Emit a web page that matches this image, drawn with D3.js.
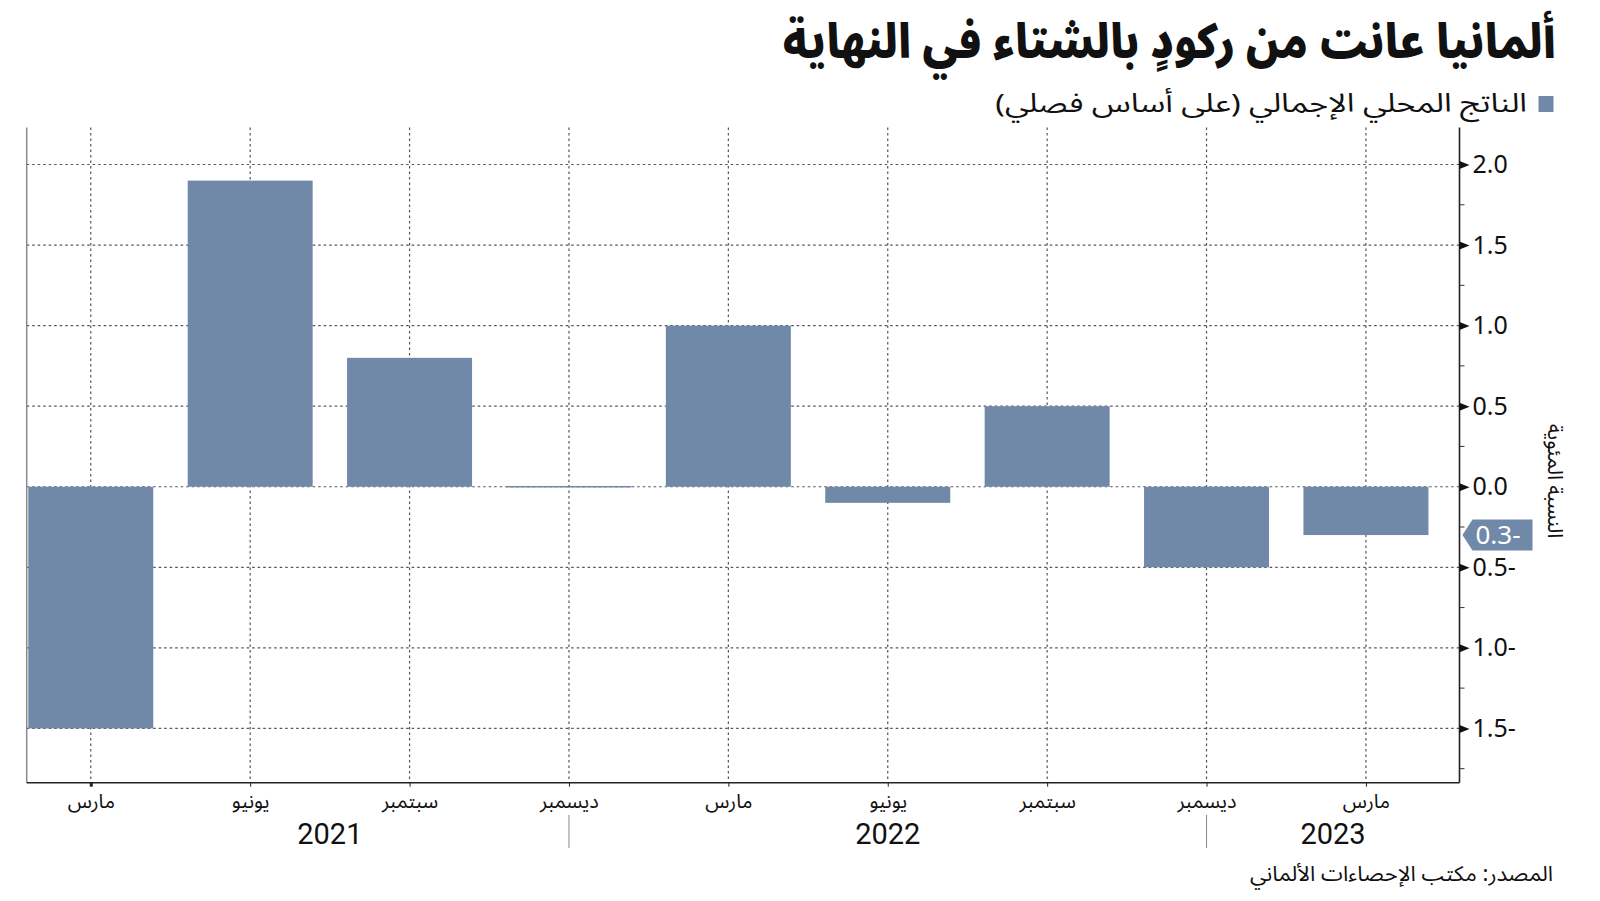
<!DOCTYPE html>
<html><head><meta charset="utf-8">
<script src="https://cdn.jsdelivr.net/npm/d3@7"></script>
<style>
html,body{margin:0;padding:0;background:#fff;}
svg{display:block;}
text{font-family:"Noto Sans Arabic","Noto Sans","DejaVu Sans",sans-serif;fill:#111;}
</style></head>
<body>
<script>
// ---- data ----
const months = ["مارس","يونيو","سبتمبر","ديسمبر","مارس","يونيو","سبتمبر","ديسمبر","مارس"];
const values = [-1.5, 1.9, 0.8, 0.0, 1.0, -0.1, 0.5, -0.5, -0.3];
const years = ["2021","2022","2023"];
const yearBreaks = [3, 7];          // category index where a new year separator sits
const yTicks = [-1.5,-1.0,-0.5,0.0,0.5,1.0,1.5,2.0];
const yMinorTicks = [-1.75,-1.25,-0.75,-0.25,0.25,0.75,1.25,1.75];
const title = "ألمانيا عانت من ركودٍ بالشتاء في النهاية";
const legendLabel = "الناتج المحلي الإجمالي (على أساس فصلي)";
const yTitle = "النسبة المئوية";
const source = "المصدر: مكتب الإحصاءات الألماني";
const highlight = -0.3;

const W = 1600, H = 901;
const pL = 26.7, pR = 1459.5, pT = 127.6, pB = 782.7;
const barColor = "#7189a9";

const svg = d3.select("body").append("svg").attr("width", W).attr("height", H);

const x = d3.scaleLinear().domain([-0.402, 8.587]).range([pL, pR]);
const y = d3.scaleLinear().domain([-1.837, 2.229]).range([pB, pT]);
const barW = 125;

function fit(sel, target) {
  const w = sel.node().getComputedTextLength();
  if (w > 0) {
    const s = target / w;
    const t = sel.attr("data-t");
    sel.attr("transform", t + ` scale(${s},1)`);
  }
}

// gridlines
const grid = svg.append("g");
grid.selectAll("line.h").data(yTicks).join("line")
  .attr("x1", pL).attr("x2", pR)
  .attr("y1", d => y(d)).attr("y2", d => y(d))
  .attr("stroke", "#555").attr("stroke-width", 1.2).attr("stroke-dasharray", "2.5,3");
grid.selectAll("line.v").data(months.map((m,i)=>i)).join("line")
  .attr("x1", d => x(d)).attr("x2", d => x(d))
  .attr("y1", pT).attr("y2", pB)
  .attr("stroke", "#555").attr("stroke-width", 1.2).attr("stroke-dasharray", "2.5,3");

// clip
svg.append("clipPath").attr("id","plot").append("rect")
  .attr("x", pL).attr("y", pT).attr("width", pR-pL).attr("height", pB-pT);

// bars
svg.append("g").attr("clip-path","url(#plot)")
  .selectAll("rect").data(values).join("rect")
  .attr("x", (d,i) => x(i) - barW/2)
  .attr("width", barW)
  .attr("y", d => d === 0 ? y(0) - 0.75 : Math.min(y(d), y(0)))
  .attr("height", d => Math.max(1.5, Math.abs(y(d) - y(0))))
  .attr("fill", barColor);

// left border
svg.append("line").attr("x1", pL).attr("x2", pL).attr("y1", pT).attr("y2", pB)
  .attr("stroke", "#8a8a8a").attr("stroke-width", 1.5);

// x axis
const xAxis = svg.append("g").attr("transform", `translate(0,${pB})`)
  .call(d3.axisBottom(x).tickValues(months.map((m,i)=>i)).tickFormat(i => months[i]).tickSize(4).tickSizeOuter(0));
xAxis.select(".domain").attr("stroke", "#222").attr("stroke-width", 1.6).attr("d", `M${pL},0H${pR}`);
xAxis.selectAll(".tick line").attr("stroke", "#222").attr("stroke-width", (d,i) => i === 0 ? 3 : 1);
xAxis.selectAll(".tick text").attr("y", 11).attr("dy", "0.71em")
  .style("font-family", "'Noto Sans Arabic','Noto Sans','DejaVu Sans',sans-serif")
  .style("font-size", "20px").attr("fill", "#111");

// year labels & separators
const bounds = [0, ...yearBreaks, x.domain()[1]];
svg.append("g").selectAll("text").data(years).join("text")
  .attr("x", (d,i) => x((bounds[i] + bounds[i+1]) / 2))
  .attr("y", 844)
  .attr("text-anchor", "middle")
  .style("font-family", "Roboto, 'Noto Sans', sans-serif")
  .style("font-size", "29px")
  .text(d => d);
svg.append("g").selectAll("line").data(yearBreaks).join("line")
  .attr("x1", d => x(d)).attr("x2", d => x(d))
  .attr("y1", 815).attr("y2", 848)
  .attr("stroke", "#888").attr("stroke-width", 1);

// y axis (right)
const yAxis = svg.append("g").attr("transform", `translate(${pR},0)`)
  .call(d3.axisRight(y).tickValues(yTicks).tickSize(0).tickPadding(13).tickSizeOuter(0)
    .tickFormat(d => d < 0 ? Math.abs(d).toFixed(1) + "-" : d.toFixed(1)));
yAxis.select(".domain").attr("d", `M0,${pT}V${pB}`).attr("stroke", "#222").attr("stroke-width", 1.6);
yAxis.selectAll(".tick text")
  .style("font-family", "'Noto Sans', 'Open Sans', sans-serif")
  .style("font-size", "25px").attr("fill", "#111").attr("direction", "ltr");
yAxis.selectAll(".tick").append("path")
  .attr("d", "M0,-4L10,0L0,4Z").attr("fill", "#111");
svg.append("g").attr("transform", `translate(${pR},0)`)
  .selectAll("line").data(yMinorTicks).join("line")
  .attr("x1", 0).attr("x2", 5).attr("y1", d => y(d)).attr("y2", d => y(d))
  .attr("stroke", "#333").attr("stroke-width", 1);

// highlight flag
const fy = y(highlight);
const flag = svg.append("g").attr("transform", `translate(${pR + 3},${fy})`);
flag.append("path").attr("d", "M0,0L10,-15.5H70V15.5H10Z").attr("fill", barColor);
flag.append("text").attr("x", 13).attr("y", 0).attr("dy", "0.36em")
  .attr("direction", "ltr")
  .style("font-family", "'Noto Sans', 'Open Sans', sans-serif")
  .style("font-size", "26px").style("fill", "#fff")
  .text(Math.abs(highlight).toFixed(1) + "-");

// y title
svg.append("text")
  .attr("transform", "translate(1555,481) rotate(90)")
  .attr("text-anchor", "middle")
  .attr("dy", "0.35em")
  .style("font-size", "21px")
  .text(yTitle);

// title
const t = svg.append("text").attr("data-t", "translate(1556,58)")
  .attr("transform", "translate(1556,58)")
  .attr("text-anchor", "start").attr("direction", "rtl")
  .style("font-size", "47px").style("font-weight", "900")
  .text(title);
fit(t, 774);

// legend
svg.append("rect").attr("x", 1538.5).attr("y", 96).attr("width", 15).attr("height", 16).attr("fill", barColor);
const lg = svg.append("text").attr("data-t", "translate(1527,112)")
  .attr("transform", "translate(1527,112)")
  .attr("text-anchor", "start").attr("direction", "rtl")
  .style("font-size", "26px")
  .text(legendLabel);
fit(lg, 532);

// source
const src = svg.append("text").attr("data-t", "translate(1553,881)")
  .attr("transform", "translate(1553,881)")
  .attr("text-anchor", "start").attr("direction", "rtl")
  .style("font-size", "21px")
  .text(source);
fit(src, 303);
</script>
</body></html>
